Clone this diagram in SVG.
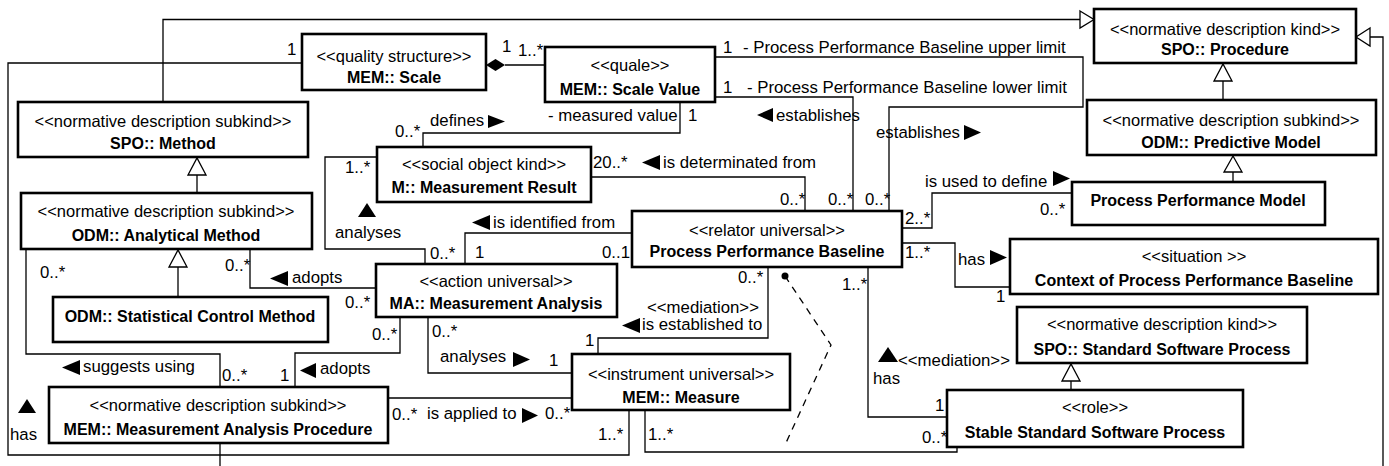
<svg xmlns="http://www.w3.org/2000/svg" width="1389" height="466" viewBox="0 0 1389 466">
<style>
.box{fill:#fff;stroke:#000;stroke-width:2.6}
.ln{fill:none;stroke:#000;stroke-width:1.3}
.dash{fill:none;stroke:#000;stroke-width:1.3;stroke-dasharray:7 6}
.gen{fill:#fff;stroke:#000;stroke-width:1.3}
.tri{fill:#000}
text{font-family:"Liberation Sans",Arial,sans-serif;fill:#000}
.st{font-size:16.5px;text-anchor:middle}
.nm{font-size:16px;font-weight:bold;text-anchor:middle}
.lb{font-size:16.8px}
</style>
<rect width="1389" height="466" fill="#fff"/>
<g id="connectors">
  <!-- generalizations -->
  <path class="ln" d="M163,102 V19.5 H1080"/>
  <polygon class="gen" points="1080,11 1094,19.5 1080,28"/>
  <path class="ln" d="M220,443 V466"/>
  <path class="ln" d="M1383,466 V37 H1370"/>
  <polygon class="gen" points="1370,28 1356,37 1370,46"/>
  <path class="ln" d="M1223,81 V100"/>
  <polygon class="gen" points="1214,81 1223,64 1232,81"/>
  <path class="ln" d="M1233,172 V182"/>
  <polygon class="gen" points="1224,172 1233,156 1242,172"/>
  <path class="ln" d="M197,175 V193"/>
  <polygon class="gen" points="188,175 197,158 206,175"/>
  <path class="ln" d="M178,267 V297"/>
  <polygon class="gen" points="169,267 178,250 187,267"/>
  <path class="ln" d="M1071,381 V390"/>
  <polygon class="gen" points="1062,381 1071,364 1080,381"/>
  <!-- composition -->
  <path class="ln" d="M505,65 H545"/>
  <polygon class="tri" points="486,65 495.5,59 505,65 495.5,71"/>
  <text class="lb" x="502" y="52">1</text>
  <text class="lb" x="518" y="56">1..*</text>
  <!-- Scale has (left loop) -->
  <path class="ln" d="M302,63 H8 V455 H629 V410"/>
  <text class="lb" x="287" y="55">1</text>
  <polygon class="tri" points="18,413 27,399 36,413"/>
  <text class="lb" x="10" y="440">has</text>
  <text class="lb" x="598" y="440">1..*</text>
  <!-- Measure - Stable -->
  <path class="ln" d="M645,410 V452 H957 V447"/>
  <text class="lb" x="648" y="440">1..*</text>
  <text class="lb" x="922" y="443">0..*</text>
  <!-- dashed material relation -->
  <path class="dash" d="M785,276 L831,345 L785,445"/>
  <circle cx="785" cy="276" r="3.5" fill="#000"/>
  <!-- upper limit -->
  <path class="ln" d="M715,57 H1083 V107 H889 V211"/>
  <text class="lb" x="723" y="53">1</text>
  <text class="lb" x="743" y="53">- Process Performance Baseline upper limit</text>
  <text class="lb" x="876" y="138">establishes</text>
  <polygon class="tri" points="964,125 981,132.5 964,140"/>
  <text class="lb" x="865" y="205">0..*</text>
  <!-- lower limit -->
  <path class="ln" d="M715,97 H853 V211"/>
  <text class="lb" x="723" y="93">1</text>
  <text class="lb" x="747" y="93">- Process Performance Baseline lower limit</text>
  <polygon class="tri" points="757,115 773,108 773,122"/>
  <text class="lb" x="776" y="121">establishes</text>
  <text class="lb" x="828" y="205">0..*</text>
  <!-- defines -->
  <path class="ln" d="M680,102 V133 H423 V147"/>
  <text class="lb" x="548" y="121">- measured value</text>
  <text class="lb" x="688" y="121">1</text>
  <text class="lb" x="430" y="126">defines</text>
  <polygon class="tri" points="488,115 505,121.5 488,128"/>
  <text class="lb" x="395" y="137">0..*</text>
  <!-- is determinated from -->
  <path class="ln" d="M591,177 H805 V211"/>
  <text class="lb" x="593" y="168">20..*</text>
  <polygon class="tri" points="642,162.5 660,155 660,170"/>
  <text class="lb" x="663" y="168">is determinated from</text>
  <text class="lb" x="780" y="205">0..*</text>
  <!-- analyses (MR - MA) -->
  <path class="ln" d="M377,157 H325 V249 H425 V264"/>
  <text class="lb" x="345" y="173">1..*</text>
  <polygon class="tri" points="358,217 367,203 376,217"/>
  <text class="lb" x="335" y="238">analyses</text>
  <text class="lb" x="430" y="259">0..*</text>
  <!-- is identified from -->
  <path class="ln" d="M632,233 H465 V264"/>
  <polygon class="tri" points="472,222.5 490,215 490,230"/>
  <text class="lb" x="493" y="228">is identified from</text>
  <text class="lb" x="475" y="258">1</text>
  <text class="lb" x="602" y="258">0..1</text>
  <!-- is used to define -->
  <path class="ln" d="M902,228 H932 V193 H1072"/>
  <text class="lb" x="905" y="224">2..*</text>
  <text class="lb" x="925" y="187">is used to define</text>
  <polygon class="tri" points="1053,171 1070,178.5 1053,186"/>
  <text class="lb" x="1040" y="215">0..*</text>
  <!-- has (PPB - Context) -->
  <path class="ln" d="M902,243 H955 V287 H1010"/>
  <text class="lb" x="905" y="258">1..*</text>
  <text class="lb" x="958" y="265">has</text>
  <polygon class="tri" points="990,250 1007,257.5 990,265"/>
  <text class="lb" x="996" y="302">1</text>
  <!-- mediation PPB - Measure -->
  <path class="ln" d="M768,267 V338 H598 V354"/>
  <text class="lb" x="738" y="283">0..*</text>
  <text class="lb" x="647" y="313">&lt;&lt;mediation&gt;&gt;</text>
  <polygon class="tri" points="622,325.5 640,318 640,333"/>
  <text class="lb" x="642" y="330">is established to</text>
  <text class="lb" x="585" y="346">1</text>
  <!-- mediation PPB - Stable -->
  <path class="ln" d="M868,267 V417 H947"/>
  <text class="lb" x="842" y="290">1..*</text>
  <polygon class="tri" points="878,362 888,347 898,362"/>
  <text class="lb" x="898" y="366">&lt;&lt;mediation&gt;&gt;</text>
  <text class="lb" x="873" y="384">has</text>
  <text class="lb" x="935" y="411">1</text>
  <!-- analyses (MA - Measure) -->
  <path class="ln" d="M428,317 V373 H572"/>
  <text class="lb" x="432" y="337">0..*</text>
  <text class="lb" x="440" y="362">analyses</text>
  <polygon class="tri" points="513,352 530,359.5 513,367"/>
  <text class="lb" x="549" y="366">1</text>
  <!-- adopts (MA - MAP) -->
  <path class="ln" d="M400,317 V353 H295 V387"/>
  <text class="lb" x="372" y="340">0..*</text>
  <polygon class="tri" points="300,370.5 316,363 316,378"/>
  <text class="lb" x="320" y="374">adopts</text>
  <text class="lb" x="280" y="381">1</text>
  <text class="lb" x="222" y="381">0..*</text>
  <!-- suggests using -->
  <path class="ln" d="M26,249 V354 H220 V387"/>
  <text class="lb" x="40" y="278">0..*</text>
  <polygon class="tri" points="62,367.5 80,360 80,375"/>
  <text class="lb" x="83" y="372">suggests using</text>
  <!-- adopts (Analytical - MA) -->
  <path class="ln" d="M250,249 V288 H376"/>
  <text class="lb" x="225" y="271">0..*</text>
  <polygon class="tri" points="270,278.5 288,271 288,286"/>
  <text class="lb" x="292" y="283">adopts</text>
  <text class="lb" x="345" y="308">0..*</text>
  <!-- is applied to -->
  <path class="ln" d="M388,398 H572"/>
  <text class="lb" x="392" y="420">0..*</text>
  <text class="lb" x="427" y="419">is applied to</text>
  <polygon class="tri" points="522,408 538,415.5 522,423"/>
  <text class="lb" x="545" y="419">0..*</text>
</g>
<g id="procedure"><rect class="box" x="1094" y="9" width="262" height="54"/><text class="st" x="1225" y="35">&lt;&lt;normative description kind&gt;&gt;</text><text class="nm" x="1225" y="55">SPO:: Procedure</text></g>
<g id="scale"><rect class="box" x="302" y="34" width="184" height="56"/><text class="st" x="394" y="62">&lt;&lt;quality structure&gt;&gt;</text><text class="nm" x="394" y="83">MEM:: Scale</text></g>
<g id="scale-value"><rect class="box" x="545" y="47" width="170" height="55"/><text class="st" x="630" y="71">&lt;&lt;quale&gt;&gt;</text><text class="nm" x="630" y="95">MEM:: Scale Value</text></g>
<g id="method"><rect class="box" x="18" y="102" width="290" height="55"/><text class="st" x="163" y="127">&lt;&lt;normative description subkind&gt;&gt;</text><text class="nm" x="163" y="149">SPO:: Method</text></g>
<g id="analytical-method"><rect class="box" x="21" y="193" width="291" height="56"/><text class="st" x="166" y="217">&lt;&lt;normative description subkind&gt;&gt;</text><text class="nm" x="166" y="241">ODM:: Analytical Method</text></g>
<g id="statistical-control-method"><rect class="box" x="53" y="297" width="275" height="45"/><text class="nm" x="190" y="322">ODM:: Statistical Control Method</text></g>
<g id="measurement-analysis"><rect class="box" x="376" y="264" width="241" height="53"/><text class="st" x="496" y="287">&lt;&lt;action universal&gt;&gt;</text><text class="nm" x="496" y="309">MA:: Measurement Analysis</text></g>
<g id="measurement-result"><rect class="box" x="377" y="147" width="214" height="55"/><text class="st" x="484" y="170">&lt;&lt;social object kind&gt;&gt;</text><text class="nm" x="484" y="193">M:: Measurement Result</text></g>
<g id="ppb"><rect class="box" x="632" y="211" width="270" height="56"/><text class="st" x="767" y="236">&lt;&lt;relator universal&gt;&gt;</text><text class="nm" x="767" y="257">Process Performance Baseline</text></g>
<g id="ppm"><rect class="box" x="1072" y="182" width="253" height="43"/><text class="nm" x="1198" y="206">Process Performance Model</text></g>
<g id="predictive-model"><rect class="box" x="1087" y="100" width="289" height="55"/><text class="st" x="1231" y="126">&lt;&lt;normative description subkind&gt;&gt;</text><text class="nm" x="1231" y="148">ODM:: Predictive Model</text></g>
<g id="context"><rect class="box" x="1010" y="239" width="368" height="55"/><text class="st" x="1194" y="262">&lt;&lt;situation &gt;&gt;</text><text class="nm" x="1194" y="286">Context of Process Performance Baseline</text></g>
<g id="ssp"><rect class="box" x="1017" y="307" width="290" height="56"/><text class="st" x="1162" y="330">&lt;&lt;normative description kind&gt;&gt;</text><text class="nm" x="1162" y="355">SPO:: Standard Software Process</text></g>
<g id="stable-ssp"><rect class="box" x="947" y="390" width="296" height="57"/><text class="st" x="1095" y="413">&lt;&lt;role&gt;&gt;</text><text class="nm" x="1095" y="438">Stable Standard Software Process</text></g>
<g id="measure"><rect class="box" x="572" y="354" width="218" height="56"/><text class="st" x="681" y="380">&lt;&lt;instrument universal&gt;&gt;</text><text class="nm" x="681" y="403">MEM:: Measure</text></g>
<g id="map"><rect class="box" x="49" y="387" width="339" height="56"/><text class="st" x="218" y="411">&lt;&lt;normative description subkind&gt;&gt;</text><text class="nm" x="218" y="435">MEM:: Measurement Analysis Procedure</text></g>
</svg>
